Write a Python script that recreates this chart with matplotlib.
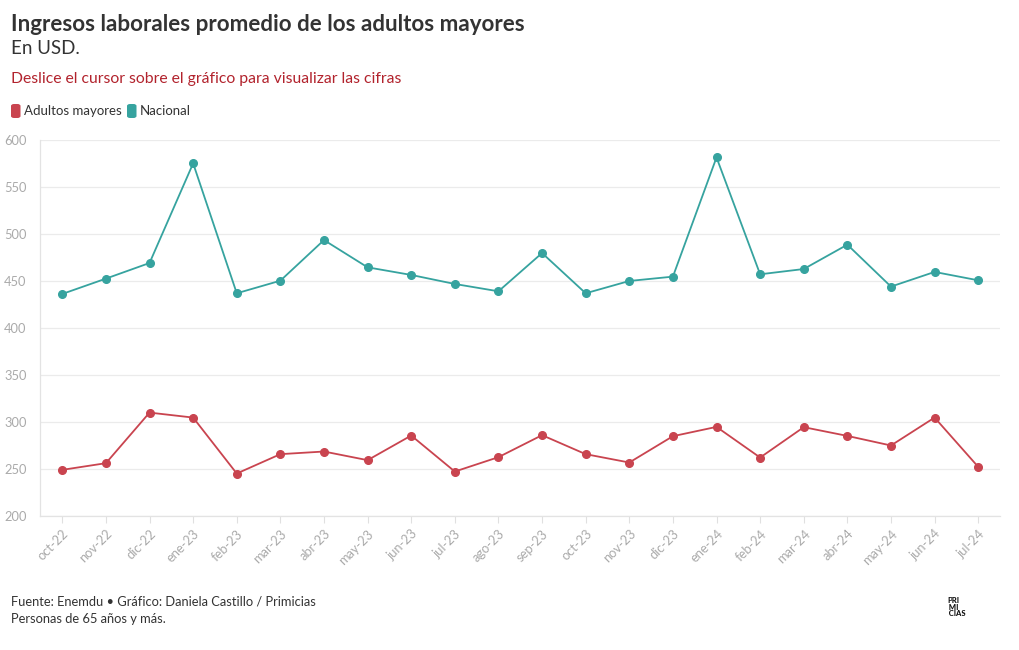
import matplotlib
matplotlib.use("Agg")
import matplotlib.pyplot as plt
from matplotlib.patches import FancyBboxPatch

plt.rcParams['font.family'] = ['Lato', 'DejaVu Sans']

meses = ["oct-22", "nov-22", "dic-22", "ene-23", "feb-23", "mar-23", "abr-23",
         "may-23", "jun-23", "jul-23", "ago-23", "sep-23", "oct-23", "nov-23",
         "dic-23", "ene-24", "feb-24", "mar-24", "abr-24", "may-24", "jun-24",
         "jul-24"]
adultos_mayores = [249.6, 256.7, 310.5, 305.2, 245.7, 266.3, 269.1, 259.9, 286.1,
                   247.8, 263.1, 286.5, 266.3, 257.4, 285.4, 295.3, 262.7, 295.0,
                   285.7, 275.5, 305.2, 252.8]
nacional = [436.7, 453.0, 469.6, 575.6, 437.4, 450.8, 494.0, 465.0, 456.9, 447.3,
            439.5, 480.2, 437.4, 450.5, 455.1, 581.9, 457.6, 463.2, 489.1, 444.5,
            460.1, 451.2]
yticks = [200, 250, 300, 350, 400, 450, 500, 550, 600]

rojo = "#c9444f"
verde = "#36a39f"

fig = plt.figure(figsize=(10.2, 6.5), dpi=100)
ax = fig.add_axes([0.0397, 0.2054, 0.9407, 0.5786])

x = list(range(len(meses)))
ax.plot(x, nacional, color=verde, lw=1.3, marker="o", ms=5.5, zorder=3)
ax.plot(x, adultos_mayores, color=rojo, lw=1.3, marker="o", ms=5.5, zorder=3)

ax.set_xlim(-0.5, len(meses) - 0.5)
ax.set_ylim(200, 600)
ax.set_yticks(yticks)
ax.set_xticks(x)
ax.set_xticklabels(meses, rotation=45, ha="right", rotation_mode="anchor")
ax.tick_params(axis="x", colors="#e0e0e0", labelcolor="#aaaaaa", labelsize=9.3,
               length=5, width=0.8, pad=3)
ax.tick_params(axis="y", length=0, labelcolor="#aaaaaa", labelsize=9.3, pad=10)
ax.grid(axis="y", color="#ebebeb", lw=0.9)
ax.set_axisbelow(True)
for s in ["top", "right"]:
    ax.spines[s].set_visible(False)
for s in ["left", "bottom"]:
    ax.spines[s].set_color("#e3e3e3")
    ax.spines[s].set_linewidth(0.9)

# encabezado
fig.text(0.0108, 0.963, "Ingresos laborales promedio de los adultos mayores",
         fontsize=16.1, fontweight="bold", color="#333333", va="center")
fig.text(0.0108, 0.925, "En USD.", fontsize=13.5, color="#333333", va="center")
fig.text(0.0108, 0.879, "Deslice el cursor sobre el gráfico para visualizar las cifras",
         fontsize=11.3, color="#b2232d", va="center")

# leyenda
for x0, col, lab in [(11, rojo, "Adultos mayores"), (127, verde, "Nacional")]:
    fig.patches.append(FancyBboxPatch((x0 / 1020, 1 - 118 / 650), 9.5 / 1020, 14 / 650,
                                      boxstyle="round,pad=0,rounding_size=0.003",
                                      transform=fig.transFigure, fc=col, ec="none"))
    fig.text((x0 + 13) / 1020, 1 - 111 / 650, lab, fontsize=9.5, color="#333333",
             va="center")

# pie
fig.text(0.0108, 1 - 601 / 650, "Fuente: Enemdu • Gráfico: Daniela Castillo / Primicias",
         fontsize=9.3, color="#333333", va="center")
fig.text(0.0108, 1 - 619 / 650, "Personas de 65 años y más.",
         fontsize=9.3, color="#333333", va="center")
fig.text(947 / 1020, 1 - 607 / 650, "PRI\n MI\n CIAS", fontsize=5.5, fontweight="black",
         color="#111111", va="center", linespacing=0.85)

fig.savefig("out.png", dpi=100, facecolor="white")
